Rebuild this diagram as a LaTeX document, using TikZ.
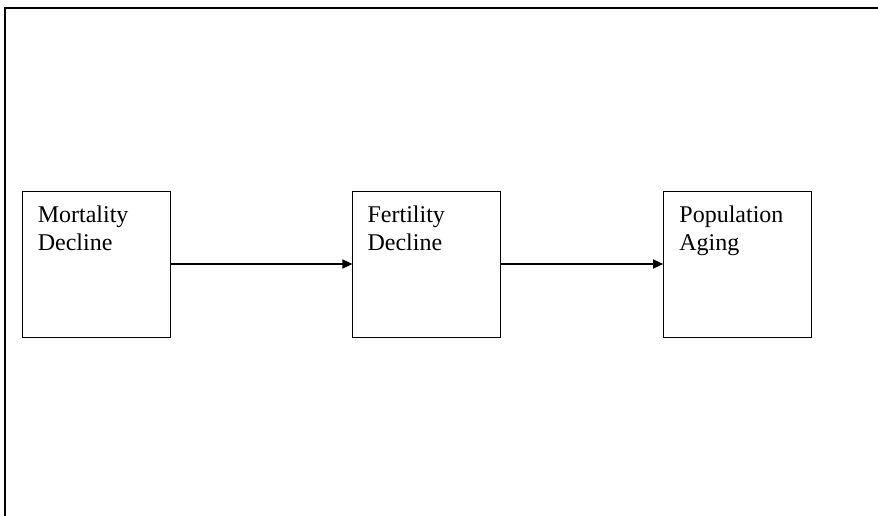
\documentclass[tikz,border=0pt]{standalone}
\usepackage{fontspec}
\setmainfont{Liberation Serif}
\usetikzlibrary{arrows.meta,positioning}
\tikzset{
	blok/.style={draw,line width=0.8pt,minimum width=148pt,minimum height=146pt,inner sep=0pt},
	napis/.style={font=\fontsize{24}{28}\selectfont,align=left,anchor=north west,inner sep=0pt},
	strz/.style={line width=1.4pt,-{Triangle[length=10pt,width=9pt]}}
}
\begin{document}
\begin{tikzpicture}[x=1pt,y=1pt]
	\useasboundingbox (0,0) rectangle (878,-516);
	% ramka
	\draw[line width=1.5pt] (878,-8) -- (5,-8) -- (5,-516);

	\node[blok] (mort) at (96,-264) {};
	\node[blok,right=182pt of mort] (fert) {};
	\node[blok,right=162pt of fert] (pop) {};

	\node[napis] (tmort) at ([xshift=16pt,yshift=-15pt]mort.north west) {Mortality\\Decline};
	\node[napis] (tfert) at ([xshift=15pt,yshift=-15pt]fert.north west) {Fertility\\Decline};
	\node[napis] (tpop) at ([xshift=16pt,yshift=-15pt]pop.north west) {Population\\Aging};

	% strzalki
	\draw[strz] (mort) -- (fert);
	\draw[strz] (fert) -- (pop);
\end{tikzpicture}
\end{document}
